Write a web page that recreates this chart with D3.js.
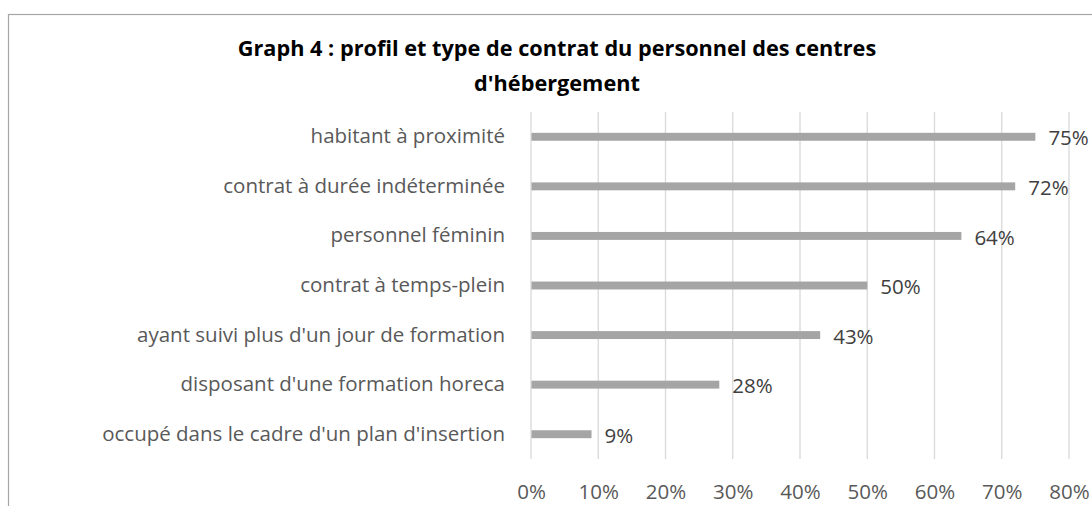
<!DOCTYPE html>
<html>
<head>
<meta charset="utf-8">
<script src="https://cdn.jsdelivr.net/npm/d3@7"></script>
<style>
  html, body { margin: 0; padding: 0; background: #ffffff; }
  svg { display: block; }
</style>
</head>
<body>
<svg id="chart" width="1092" height="506"></svg>
<script>
const titleLines = ["Graph 4 : profil et type de contrat du personnel des centres", "d'hébergement"];
const categories = [
  "habitant à proximité",
  "contrat à durée indéterminée",
  "personnel féminin",
  "contrat à temps-plein",
  "ayant suivi plus d'un jour de formation",
  "disposant d'une formation horeca",
  "occupé dans le cadre d'un plan d'insertion"
];
const values = [75, 72, 64, 50, 43, 28, 9];
const tickValues = [0, 10, 20, 30, 40, 50, 60, 70, 80];

const W = 1092, H = 506;
const svg = d3.select("#chart");
const font = "'Open Sans', 'Noto Sans', sans-serif";
const fs = 20.5;

// chart frame
svg.append("rect")
  .attr("x", 8.5).attr("y", 14.5)
  .attr("width", 1120).attr("height", 520)
  .attr("fill", "#fff").attr("stroke", "#a6a6a6").attr("stroke-width", 1.2);

const plot = { left: 531, right: 1069, top: 112, bottom: 459 };

const x = d3.scaleLinear().domain([0, 80]).range([plot.left, plot.right]);
const y = d3.scaleBand().domain(categories).range([plot.top, plot.bottom])
  .paddingInner(0.84).paddingOuter(0.42);

// gridlines
svg.append("g").selectAll("line").data(tickValues).join("line")
  .attr("x1", d => x(d)).attr("x2", d => x(d))
  .attr("y1", plot.top).attr("y2", plot.bottom)
  .attr("stroke", "#d9d9d9").attr("stroke-width", 1.3);

// x axis tick labels
const xAxis = d3.axisBottom(x).tickValues(tickValues).tickFormat(d => d + "%").tickSize(0).tickPadding(0);
const gx = svg.append("g").attr("transform", `translate(0, ${plot.bottom + 25})`).call(xAxis);
gx.select(".domain").remove();
gx.selectAll("text").attr("font-family", font).attr("font-size", fs).attr("fill", "#595959");

// y axis labels
const yAxis = d3.axisLeft(y).tickSize(0).tickPadding(26);
const gy = svg.append("g").attr("transform", `translate(${plot.left}, 0)`).call(yAxis);
gy.select(".domain").remove();
gy.selectAll("text").attr("font-family", font).attr("font-size", fs).attr("fill", "#595959");

// bars
svg.append("g").selectAll("rect").data(values).join("rect")
  .attr("x", x(0) + 0.5)
  .attr("y", (d, i) => y(categories[i]))
  .attr("width", d => x(d) - x(0) - 0.5)
  .attr("height", y.bandwidth())
  .attr("fill", "#a5a5a5");

// value labels
svg.append("g").selectAll("text").data(values).join("text")
  .attr("x", d => x(d) + 13)
  .attr("y", (d, i) => y(categories[i]) + y.bandwidth() / 2 + 1.5)
  .attr("dy", "0.35em")
  .attr("font-family", font).attr("font-size", fs).attr("fill", "#404040")
  .text(d => d + "%");

// title
svg.append("g").selectAll("text").data(titleLines).join("text")
  .attr("x", 557)
  .attr("y", (d, i) => 56 + i * 35)
  .attr("text-anchor", "middle")
  .attr("font-family", font).attr("font-weight", "bold").attr("font-size", 21.7)
  .attr("fill", "#000")
  .text(d => d);
</script>
</body>
</html>
